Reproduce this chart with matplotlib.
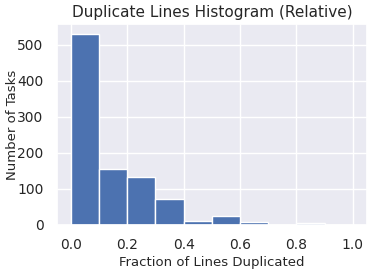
import matplotlib
matplotlib.use("Agg")
import matplotlib.pyplot as plt
import numpy as np
import seaborn as sns

bin_edges = [0.0, 0.1, 0.2, 0.3, 0.4, 0.5, 0.6, 0.7, 0.8, 0.9, 1.0]
counts = [531, 155, 132, 73, 12, 26, 9, 0, 5, 0]
title = "Duplicate Lines Histogram (Relative)"
xlabel = "Fraction of Lines Duplicated"
ylabel = "Number of Tasks"

sns.set_theme()
plt.rcParams['font.family'] = ['DejaVu Sans']

fig = plt.figure(figsize=(3.74, 2.70), dpi=100)
ax = fig.add_axes([0.152, 0.167, 0.829, 0.744])
centers = [(a + b) / 2 for a, b in zip(bin_edges[:-1], bin_edges[1:])]
ax.hist(centers, bins=bin_edges, weights=counts, color="#4c72b0", edgecolor="white", linewidth=1)
ax.set_title(title, fontsize=11, pad=5)
ax.set_xlabel(xlabel, fontsize=9.5, labelpad=3)
ax.set_ylabel(ylabel, fontsize=9.5, labelpad=-1)
ax.tick_params(labelsize=10)
ax.set_yticks([0, 100, 200, 300, 400, 500])
fig.savefig("out.png", dpi=100)
